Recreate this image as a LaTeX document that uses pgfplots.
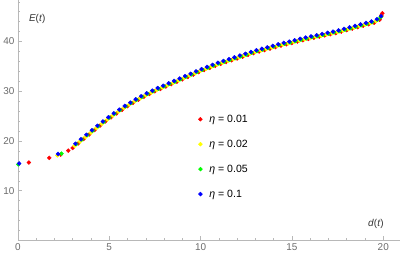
\documentclass[border=0pt]{standalone}
\usepackage{fontspec}
\setmainfont{Liberation Sans}
\usepackage{pgfplots}
\pgfplotsset{compat=1.18}
\definecolor{axgray}{gray}{0.72}
\definecolor{lblgray}{gray}{0.42}
\definecolor{mred}{rgb}{1,0,0}
\definecolor{myellow}{rgb}{1,1,0}
\definecolor{mgreen}{rgb}{0,1,0}
\definecolor{mblue}{rgb}{0,0,1}

\begin{document}
\begin{tikzpicture}
\begin{axis}[
    scale only axis, width=384pt, height=241.5pt,
    axis lines=middle,
    axis line style={axgray, line width=0.6pt, -},
    xmin=0, xmax=20.9, ymin=0, ymax=48.3,
    xtick={0,5,10,15,20}, minor xtick={0,1,...,20},
    ytick={10,20,30,40}, minor ytick={2,4,...,48},
    tick align=inside,
    major tick length=4pt, minor tick length=2.5pt,
    tick style={axgray, line width=0.5pt},
    ticklabel style={font=\fontsize{10}{12}\selectfont, text=lblgray},
    /pgf/number format/assume math mode=true,
    hide obscured x ticks=false,
    clip=false,
    legend cell align=left,
    legend style={draw=none, fill=none, at={(axis cs:9.6,16.85)}, anchor=west,
        font=\fontsize{10.6}{12}\selectfont, row sep=12.2pt},
    legend image code/.code={
        \path[draw=none, fill=none] (0pt,-1pt) rectangle (11pt,1pt);
        \draw[mark repeat=2,mark phase=2,#1]
        plot coordinates {(0pt,0pt) (4pt,0pt) (8pt,0pt)};},
    every axis plot/.append style={only marks, mark=*, mark size=2pt},
]
% eta = 0.01
\addplot[mred, mark options={draw=none, fill=mred}] coordinates {
(0.6,15.66) (1.72,16.6) (2.34,17.26) (2.76,18.06)
(3.0,18.6) (3.3,19.5) (3.6,20.4) (3.9,21.3) (4.2,22.2) (4.5,23.1) (4.8,23.94)
(5.1,24.76) (5.4,25.54) (5.7,26.28) (6.0,27.0) (6.3,27.66) (6.6,28.3) (6.9,28.9)
(7.2,29.46) (7.5,30.0) (7.8,30.48) (8.1,30.96) (8.4,31.44) (8.7,31.92) (9.0,32.4)
(9.3,32.88) (9.6,33.36) (9.9,33.84) (10.2,34.28) (10.5,34.7) (10.8,35.12)
(11.1,35.52) (11.4,35.88) (11.7,36.24) (12.0,36.6) (12.3,36.96) (12.6,37.32)
(12.9,37.68) (13.2,38.0) (13.5,38.3) (13.8,38.6) (14.1,38.9) (14.4,39.2)
(14.7,39.46) (15.0,39.7) (15.3,40.0) (15.6,40.28) (15.9,40.52) (16.2,40.76)
(16.5,41.0) (16.8,41.24) (17.1,41.48) (17.4,41.72) (17.7,42.0) (18.0,42.3)
(18.3,42.6) (18.6,42.9) (18.9,43.2) (19.2,43.5) (19.5,43.8) (19.8,44.4)
(19.9,45.3) (19.95,45.7)
};
\addlegendentry{\textit{η} = 0.01}
% eta = 0.02
\addplot[myellow, mark options={draw=none, fill=myellow}] coordinates {
(2.16,17.1)
(3.1,19.0) (3.4,19.9) (3.7,20.8) (4.0,21.7) (4.3,22.6) (4.6,23.48) (4.9,24.32)
(5.2,25.12) (5.5,25.9) (5.8,26.62) (6.1,27.32) (6.4,27.98) (6.7,28.6) (7.0,29.2)
(7.3,29.74) (7.6,30.26) (7.9,30.74) (8.2,31.22) (8.5,31.7) (8.8,32.18) (9.1,32.66)
(9.4,33.14) (9.7,33.62) (10.0,34.1) (10.3,34.52) (10.6,34.94) (10.9,35.36)
(11.2,35.74) (11.5,36.1) (11.8,36.46) (12.1,36.82) (12.4,37.18) (12.7,37.54)
(13.0,37.9) (13.3,38.2) (13.6,38.5) (13.9,38.8) (14.2,39.1) (14.5,39.4)
(14.8,39.64) (15.1,39.9) (15.4,40.2) (15.7,40.46) (16.0,40.7) (16.3,40.94)
(16.6,41.18) (16.9,41.42) (17.2,41.66) (17.5,41.9) (17.8,42.2) (18.1,42.5)
(18.4,42.8) (18.7,43.1) (19.0,43.4) (19.3,43.7) (19.6,44.1) (19.9,45.0)
};
\addlegendentry{\textit{η} = 0.02}
% eta = 0.05
\addplot[mgreen, mark options={draw=none, fill=mgreen}] coordinates {
(0.02,15.3) (2.39,17.45)
(3.2,19.4) (3.5,20.3) (3.8,21.2) (4.1,22.1) (4.4,23.0) (4.7,23.86) (5.0,24.7)
(5.3,25.48) (5.6,26.24) (5.9,26.96) (6.2,27.64) (6.5,28.3) (6.8,28.9) (7.1,29.48)
(7.4,30.02) (7.7,30.52) (8.0,31.0) (8.3,31.48) (8.6,31.96) (8.9,32.44) (9.2,32.92)
(9.5,33.4) (9.8,33.88) (10.1,34.34) (10.4,34.76) (10.7,35.18) (11.0,35.6)
(11.3,35.96) (11.6,36.32) (11.9,36.68) (12.2,37.04) (12.5,37.4) (12.8,37.76)
(13.1,38.1) (13.4,38.4) (13.7,38.7) (14.0,39.0) (14.3,39.3) (14.6,39.58)
(14.9,39.82) (15.2,40.1) (15.5,40.4) (15.8,40.64) (16.1,40.88) (16.4,41.12)
(16.7,41.36) (17.0,41.6) (17.3,41.84) (17.6,42.1) (17.9,42.4) (18.2,42.7)
(18.5,43.0) (18.8,43.3) (19.1,43.6) (19.4,43.9) (19.7,44.4) (19.85,44.9)
};
\addlegendentry{\textit{η} = 0.05}
% eta = 0.1
\addplot[mblue, mark options={draw=none, fill=mblue}] coordinates {
(0.07,15.46) (2.2,17.4)
(3.15,19.45) (3.45,20.35) (3.75,21.25) (4.05,22.15) (4.35,23.05) (4.65,23.92)
(4.95,24.76) (5.25,25.55) (5.55,26.32) (5.85,27.04) (6.15,27.73) (6.45,28.39)
(6.75,29.0) (7.05,29.59) (7.35,30.13) (7.65,30.64) (7.95,31.12) (8.25,31.6)
(8.55,32.08) (8.85,32.56) (9.15,33.04) (9.45,33.52) (9.75,34.0) (10.05,34.47)
(10.35,34.89) (10.65,35.31) (10.95,35.73) (11.25,36.1) (11.55,36.46)
(11.85,36.82) (12.15,37.18) (12.45,37.54) (12.75,37.9) (13.05,38.25)
(13.35,38.55) (13.65,38.85) (13.95,39.15) (14.25,39.45) (14.55,39.74)
(14.85,39.98) (15.15,40.25) (15.45,40.55) (15.75,40.8) (16.05,41.04)
(16.35,41.28) (16.65,41.52) (16.95,41.76) (17.25,42.0) (17.55,42.25)
(17.85,42.55) (18.15,42.85) (18.45,43.15) (18.75,43.45) (19.05,43.75)
(19.35,44.05) (19.65,44.5) (19.88,45.1)
};
\addlegendentry{\textit{η} = 0.1}

\node[font=\fontsize{10}{12}\selectfont, text=black!80] at (axis cs:1.06,44.5) {\textit{E}(\textit{t})};
\node[font=\fontsize{10}{12}\selectfont, text=black!80] at (axis cs:19.6,3.3) {\textit{d}(\textit{t})};
\end{axis}
\end{tikzpicture}
\end{document}
